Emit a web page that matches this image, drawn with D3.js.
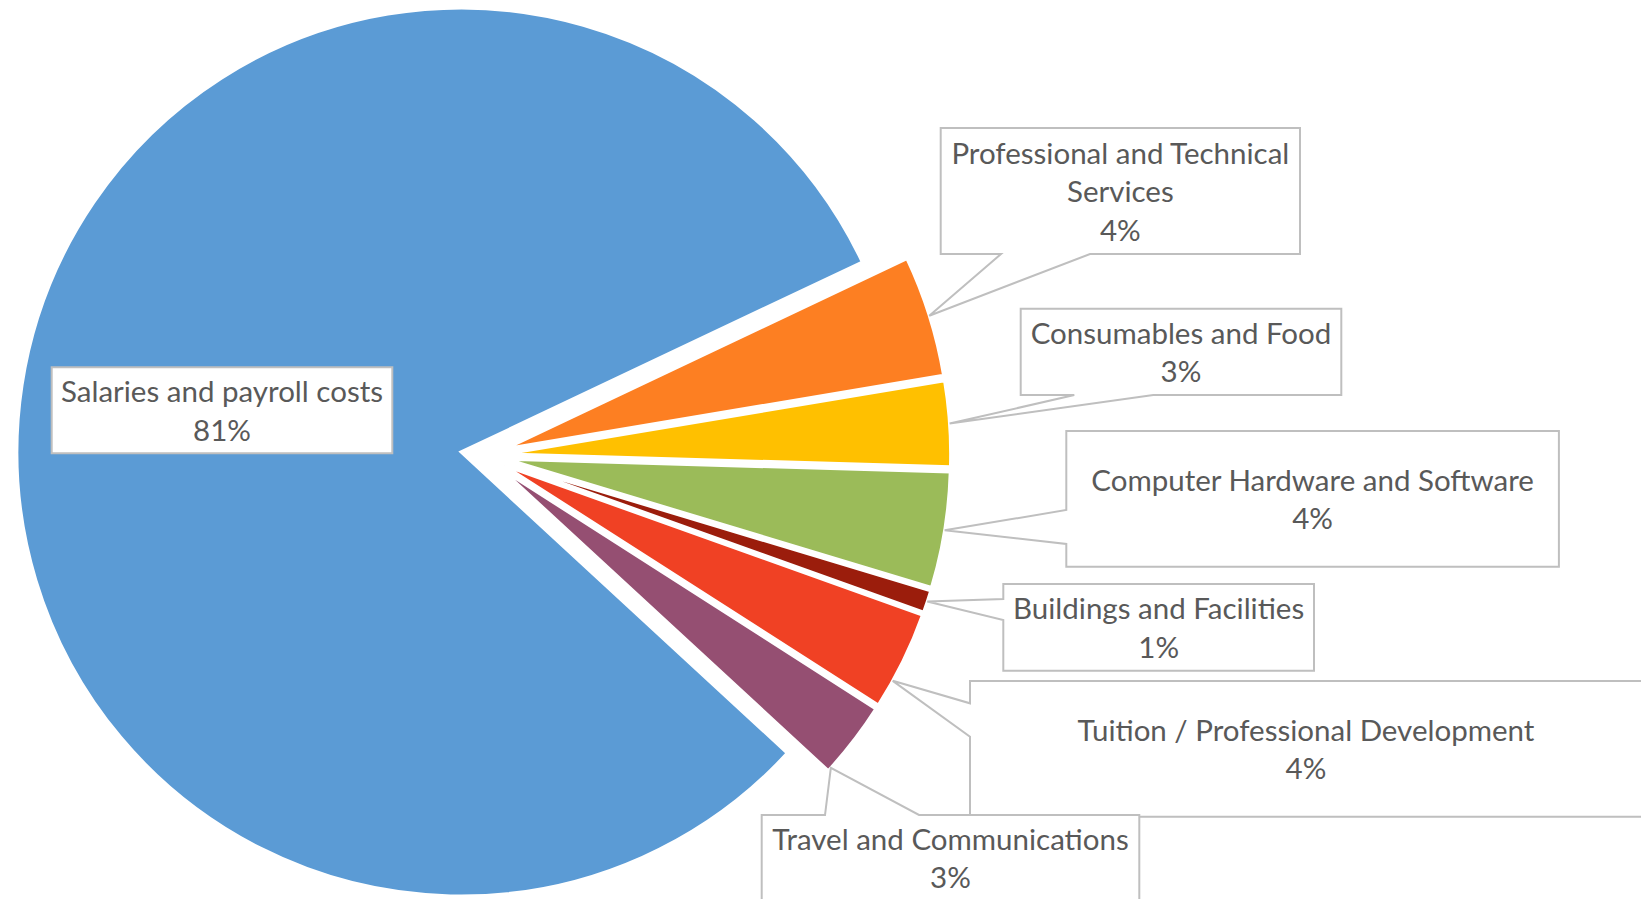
<!DOCTYPE html>
<html>
<head>
<meta charset="utf-8">
<script src="https://cdn.jsdelivr.net/npm/d3@7"></script>
<style>
  html, body { margin: 0; padding: 0; background: #ffffff; }
  svg { display: block; }
</style>
</head>
<body>
<svg id="chart" width="1641" height="899"></svg>
<script>
// Expense categories and their share of the total budget (percent)
const categories = [
  "Salaries and payroll costs",
  "Professional and Technical Services",
  "Consumables and Food",
  "Computer Hardware and Software",
  "Buildings and Facilities",
  "Tuition / Professional Development",
  "Travel and Communications"
];
const shares = [81.1, 4.4, 3.1, 4.2, 0.8, 3.6, 2.8];

// Slice fills, in category order
const palette = ["#5B9BD5", "#FD7F22", "#FFC000", "#9BBB59", "#9B1D0C", "#F04124", "#954F72"];

// Callout boxes: rectangle, the side carrying the pointer, the two pointer
// base points along that side (in drawing order), and where along the
// slice's outer arc the pointer lands (0 = arc start, 1 = arc end)
const callouts = [
  { x: 51.7,   y: 367.3, w: 340.6, h: 86,    side: null },
  { x: 940.7,  y: 128,   w: 359.3, h: 126,   side: "bottom", base: [1090, 1001],   at: 0.5 },
  { x: 1020.7, y: 308.7, w: 320.6, h: 86.3,  side: "bottom", base: [1153.3, 1074.3], at: 0.5 },
  { x: 1066.3, y: 431,   w: 492.6, h: 135.7, side: "left",   base: [544, 510],     at: 0.5 },
  { x: 1003.3, y: 584,   w: 310.7, h: 86.7,  side: "left",   base: [620, 599],     at: 0.5 },
  { x: 970,    y: 681,   w: 672,   h: 135.7, side: "left",   base: [736.7, 703.3], at: 0.72 },
  { x: 761.7,  y: 815,   w: 377.6, h: 110,   side: "top",    base: [825, 919],     at: 0.95 }
];

// Pie geometry
const cx = 483.7, cy = 455.5;
const radius = 444;
const explode = 23;
const deg = Math.PI / 180;
const start = 132.7 * deg;

const fontSize = 29.5;
const lineHeight = 38.5;
const baselineShift = 11;
const textColor = "#595959";
const boxStroke = "#BFBFBF";

const svg = d3.select("#chart");

const records = categories.map((c, i) => ({ name: c, value: shares[i], color: palette[i], box: callouts[i] }));
const total = d3.sum(shares);
const pct = d3.format(".0%");

const pie = d3.pie()
  .sort(null)
  .value(d => d.value)
  .startAngle(start)
  .endAngle(start + 2 * Math.PI);

const arcs = pie(records);
const arc = d3.arc().innerRadius(0).outerRadius(radius);

// Offset of an exploded slice along its bisector
function sliceOffset(a) {
  const mid = (a.startAngle + a.endAngle) / 2;
  return [explode * Math.sin(mid), -explode * Math.cos(mid)];
}

// Slices
svg.append("g")
  .selectAll("path")
  .data(arcs)
  .join("path")
  .attr("transform", d => {
    const o = sliceOffset(d);
    return `translate(${cx + o[0]},${cy + o[1]})`;
  })
  .attr("d", arc)
  .attr("fill", d => d.data.color)
  .attr("stroke", "#ffffff")
  .attr("stroke-width", 3);

// Callout outline: box with a pointer notch leading to the slice arc
function calloutPath(b, tip) {
  const x0 = b.x, y0 = b.y, x1 = b.x + b.w, y1 = b.y + b.h;
  const p = d3.path();
  p.moveTo(x0, y0);
  if (b.side === "top") {
    p.lineTo(b.base[0], y0); p.lineTo(tip[0], tip[1]); p.lineTo(b.base[1], y0);
  }
  p.lineTo(x1, y0);
  p.lineTo(x1, y1);
  if (b.side === "bottom") {
    p.lineTo(b.base[0], y1); p.lineTo(tip[0], tip[1]); p.lineTo(b.base[1], y1);
  }
  p.lineTo(x0, y1);
  if (b.side === "left") {
    p.lineTo(x0, b.base[0]); p.lineTo(tip[0], tip[1]); p.lineTo(x0, b.base[1]);
  }
  p.closePath();
  return p.toString();
}

function tipPoint(d) {
  const b = d.data.box;
  const o = sliceOffset(d);
  const a = d.startAngle + b.at * (d.endAngle - d.startAngle);
  return [cx + o[0] + radius * Math.sin(a), cy + o[1] - radius * Math.cos(a)];
}

const labels = svg.append("g")
  .selectAll("g")
  .data(arcs)
  .join("g");

labels.append("path")
  .attr("d", d => calloutPath(d.data.box, d.data.box.side ? tipPoint(d) : null))
  .attr("fill", "#ffffff")
  .attr("stroke", boxStroke)
  .attr("stroke-width", 2)
  .attr("stroke-linejoin", "miter");

// Wrap the category name to the box width, then add the percentage line
labels.each(function (d) {
  const g = d3.select(this);
  const b = d.data.box;
  const maxW = b.w + 20;
  const probe = g.append("text")
    .attr("font-family", "Lato, 'Open Sans', sans-serif")
    .attr("font-size", fontSize);
  const words = d.data.name.split(" ");
  const lines = [];
  let current = [];
  words.forEach(w => {
    const trial = current.concat([w]).join(" ");
    probe.text(trial);
    if (probe.node().getComputedTextLength() > maxW && current.length) {
      lines.push(current.join(" "));
      current = [w];
    } else {
      current.push(w);
    }
  });
  if (current.length) lines.push(current.join(" "));
  probe.remove();
  lines.push(pct(d.data.value / total));

  const mx = b.x + b.w / 2;
  const my = b.side === "top" ? b.y + 86 / 2 : b.y + b.h / 2;
  const n = lines.length;
  g.append("text")
    .attr("font-family", "Lato, 'Open Sans', sans-serif")
    .attr("font-size", fontSize)
    .attr("fill", textColor)
    .attr("text-anchor", "middle")
    .selectAll("tspan")
    .data(lines)
    .join("tspan")
    .attr("x", mx)
    .attr("y", (l, i) => my + (i - (n - 1) / 2) * lineHeight + baselineShift)
    .text(l => l);
});
</script>
</body>
</html>
